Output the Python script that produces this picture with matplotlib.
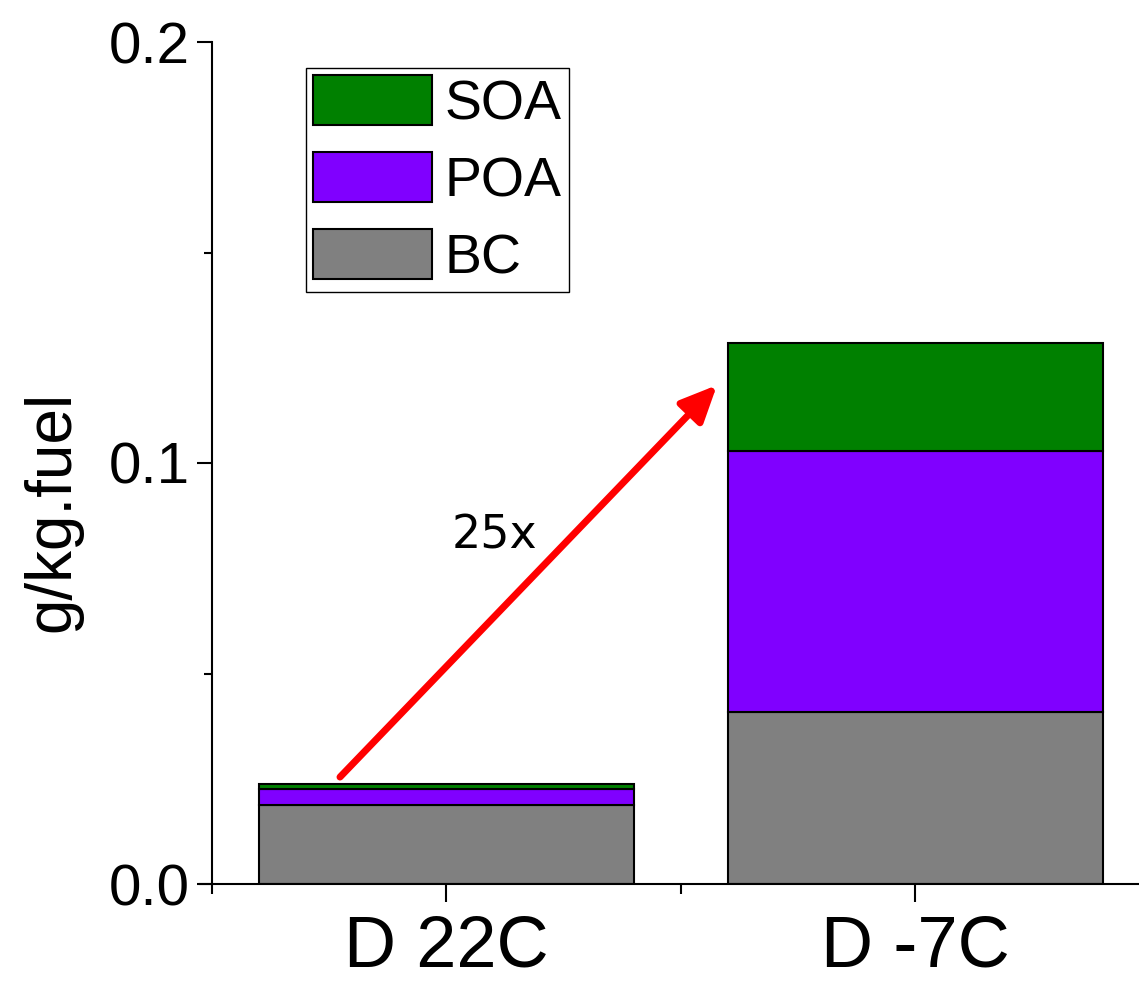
import matplotlib
matplotlib.use("Agg")
import matplotlib.pyplot as plt
from matplotlib.ticker import FixedLocator, FormatStrFormatter

categories = ["D 22C", "D -7C"]
BC = [0.0187, 0.0409]
POA = [0.0038, 0.0620]
SOA = [0.0013, 0.0255]
series_names = ["BC", "POA", "SOA"]
colors = {"BC": "#808080", "POA": "#8000FF", "SOA": "#008000"}
yticks_major = [0.0, 0.1, 0.2]
yticks_minor = [0.05, 0.15]
annot_text = "25x"

plt.rcParams['font.family'] = ['Liberation Sans', 'DejaVu Sans']

W, H = 1139, 981
fig = plt.figure(figsize=(W / 100, H / 100), dpi=100)
ax = fig.add_axes([200 / W, 1 - 884 / H, 938 / W, (884 - 42) / H])

x = [1, 2]
bottom = [0.0, 0.0]
handles = {}
for name, vals in zip(series_names, [BC, POA, SOA]):
    b = ax.bar(x, vals, width=0.8, bottom=bottom, color=colors[name],
               edgecolor="black", linewidth=1.5, label=name, zorder=2)
    handles[name] = b
    bottom = [bt + v for bt, v in zip(bottom, vals)]

ax.set_xlim(0.475, 2.475)
ax.set_ylim(0, 0.2)

for s in ["top", "right"]:
    ax.spines[s].set_visible(False)
ax.spines["left"].set_position(("data", 0.5))
ax.spines["left"].set_linewidth(1.5)
ax.spines["bottom"].set_linewidth(1.5)

ax.set_xticks(x)
ax.set_xticklabels(categories, fontsize=52)
ax.xaxis.set_minor_locator(FixedLocator([0.5, 1.5, 2.5]))
ax.set_yticks(yticks_major)
ax.yaxis.set_major_formatter(FormatStrFormatter("%.1f"))
ax.yaxis.set_minor_locator(FixedLocator(yticks_minor))
ax.tick_params(axis="y", which="major", length=11, width=1.5, labelsize=42, pad=5)
ax.tick_params(axis="y", which="minor", length=6, width=1.5)
ax.tick_params(axis="x", which="major", length=13, width=1.5, labelsize=52, pad=9)
ax.tick_params(axis="x", which="minor", length=7, width=1.5)

fig.text(52 / W, 1 - 511 / H, "g/kg.fuel", rotation=90, ha="center", va="center",
         fontsize=46)

ax.annotate("", xy=(1.5774, 0.1185), xytext=(0.7735, 0.0254),
            arrowprops=dict(arrowstyle="-|>,head_length=0.55,head_width=0.25",
                            mutation_scale=40, color="#FF0000", lw=5,
                            shrinkA=0, shrinkB=0), zorder=3)
ax.text(1.012, 0.0798, annot_text, fontsize=33, family="DejaVu Sans",
        ha="left", va="baseline")

leg = ax.legend([handles["SOA"], handles["POA"], handles["BC"]], ["SOA", "POA", "BC"],
                loc="upper left", bbox_to_anchor=(306 / W, 1 - 68 / H),
                bbox_transform=fig.transFigure, borderaxespad=0, fontsize=40,
                frameon=True, fancybox=False, edgecolor="black", framealpha=1,
                handlelength=2.14, handleheight=1.0, handletextpad=0.22,
                labelspacing=0.38, borderpad=0.13)
leg.get_frame().set_linewidth(1.0)

fig.savefig("out.png", dpi=100)
